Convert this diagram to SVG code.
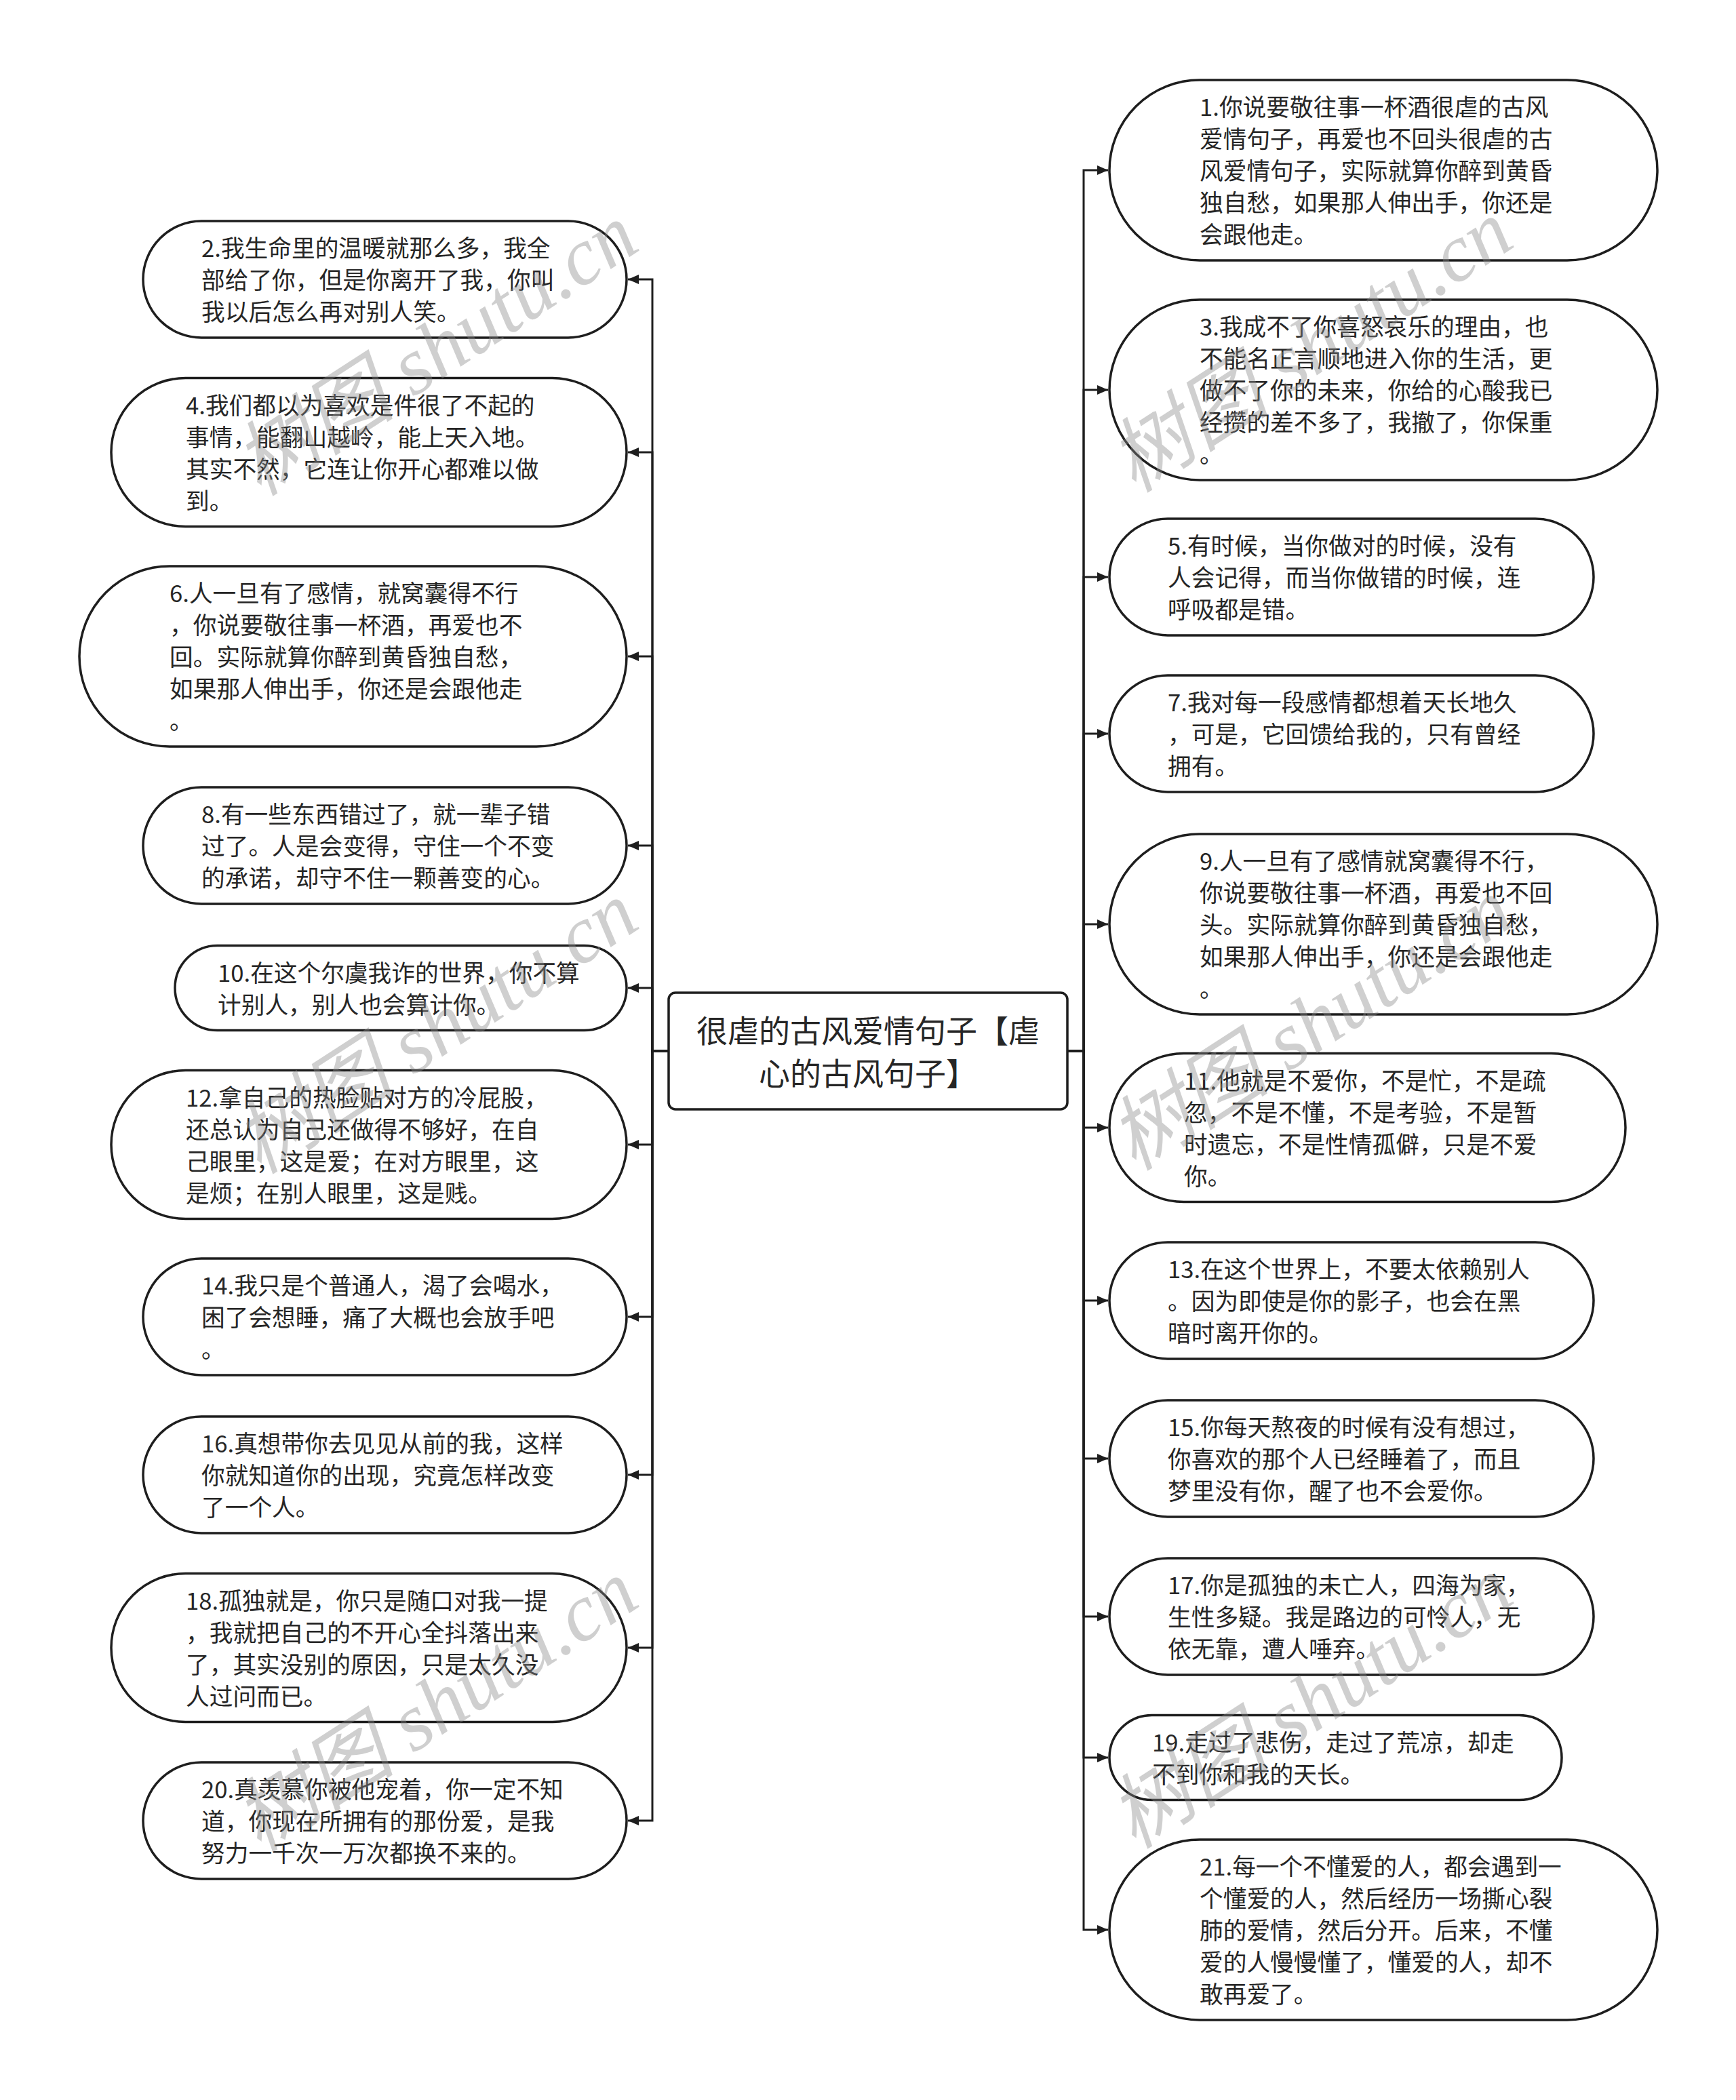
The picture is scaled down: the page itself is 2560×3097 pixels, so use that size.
<svg xmlns="http://www.w3.org/2000/svg" width="2560" height="3097" viewBox="0 0 2560 3097">
<defs>
<style>
.bg{fill:#ffffff}
.node{fill:#ffffff;stroke:#1e1e1e;stroke-width:3.5}
.t{font-family:"Noto Sans CJK SC","Noto Sans",sans-serif;font-size:34.7px;fill:#262626;dominant-baseline:central}
.root{font-family:"Noto Sans CJK SC","Noto Sans",sans-serif;font-size:46px;fill:#262626;dominant-baseline:central;text-anchor:middle}
.c{fill:none;stroke:#1e1e1e;stroke-width:3}
.wm{font-family:"Liberation Serif","Noto Sans CJK SC",serif;font-style:italic;font-size:120px;fill:#8a8a8a;opacity:0.4}
</style>
<marker id="arr" markerUnits="userSpaceOnUse" markerWidth="16" markerHeight="14" refX="16" refY="7" orient="auto">
<path d="M0,0 L16,7 L0,14 Z" fill="#1e1e1e"/>
</marker>
</defs>
<rect class="bg" x="0" y="0" width="2560" height="3097"/>

<g id="connectors">
<path class="c" d="M986,1550 H962 V412 H926" marker-end="url(#arr)"/>
<path class="c" d="M986,1550 H962 V667 H926" marker-end="url(#arr)"/>
<path class="c" d="M986,1550 H962 V968 H926" marker-end="url(#arr)"/>
<path class="c" d="M986,1550 H962 V1247 H926" marker-end="url(#arr)"/>
<path class="c" d="M986,1550 H962 V1457 H926" marker-end="url(#arr)"/>
<path class="c" d="M986,1550 H962 V1688 H926" marker-end="url(#arr)"/>
<path class="c" d="M986,1550 H962 V1942 H926" marker-end="url(#arr)"/>
<path class="c" d="M986,1550 H962 V2175 H926" marker-end="url(#arr)"/>
<path class="c" d="M986,1550 H962 V2430 H926" marker-end="url(#arr)"/>
<path class="c" d="M986,1550 H962 V2685 H926" marker-end="url(#arr)"/>
<path class="c" d="M1574,1550 H1598 V251 H1634" marker-end="url(#arr)"/>
<path class="c" d="M1574,1550 H1598 V575 H1634" marker-end="url(#arr)"/>
<path class="c" d="M1574,1550 H1598 V851 H1634" marker-end="url(#arr)"/>
<path class="c" d="M1574,1550 H1598 V1082 H1634" marker-end="url(#arr)"/>
<path class="c" d="M1574,1550 H1598 V1363 H1634" marker-end="url(#arr)"/>
<path class="c" d="M1574,1550 H1598 V1663 H1634" marker-end="url(#arr)"/>
<path class="c" d="M1574,1550 H1598 V1918 H1634" marker-end="url(#arr)"/>
<path class="c" d="M1574,1550 H1598 V2151 H1634" marker-end="url(#arr)"/>
<path class="c" d="M1574,1550 H1598 V2384 H1634" marker-end="url(#arr)"/>
<path class="c" d="M1574,1550 H1598 V2592 H1634" marker-end="url(#arr)"/>
<path class="c" d="M1574,1550 H1598 V2846 H1634" marker-end="url(#arr)"/>
</g>

<g id="root">
<rect class="node" x="986" y="1464" width="588" height="172" rx="10"/>
<text class="root"><tspan x="1280" y="1517">很虐的古风爱情句子【虐</tspan><tspan x="1280" y="1580">心的古风句子】</tspan></text>
</g>

<g id="n1">
<rect class="node" x="1636" y="118" width="808" height="266" rx="133"/>
<text class="t"><tspan x="1769" y="156">1.你说要敬往事一杯酒很虐的古风</tspan><tspan x="1769" y="203">爱情句子，再爱也不回头很虐的古</tspan><tspan x="1769" y="250">风爱情句子，实际就算你醉到黄昏</tspan><tspan x="1769" y="297">独自愁，如果那人伸出手，你还是</tspan><tspan x="1769" y="344">会跟他走。</tspan></text>
</g>
<g id="n3">
<rect class="node" x="1636" y="442" width="808" height="266" rx="133"/>
<text class="t"><tspan x="1769" y="480">3.我成不了你喜怒哀乐的理由，也</tspan><tspan x="1769" y="527">不能名正言顺地进入你的生活，更</tspan><tspan x="1769" y="574">做不了你的未来，你给的心酸我已</tspan><tspan x="1769" y="621">经攒的差不多了，我撤了，你保重</tspan><tspan x="1769" y="668">。</tspan></text>
</g>
<g id="n5">
<rect class="node" x="1636" y="765" width="714" height="172" rx="86"/>
<text class="t"><tspan x="1722" y="803">5.有时候，当你做对的时候，没有</tspan><tspan x="1722" y="850">人会记得，而当你做错的时候，连</tspan><tspan x="1722" y="897">呼吸都是错。</tspan></text>
</g>
<g id="n7">
<rect class="node" x="1636" y="996" width="714" height="172" rx="86"/>
<text class="t"><tspan x="1722" y="1034">7.我对每一段感情都想着天长地久</tspan><tspan x="1722" y="1081">，可是，它回馈给我的，只有曾经</tspan><tspan x="1722" y="1128">拥有。</tspan></text>
</g>
<g id="n9">
<rect class="node" x="1636" y="1230" width="808" height="266" rx="133"/>
<text class="t"><tspan x="1769" y="1268">9.人一旦有了感情就窝囊得不行，</tspan><tspan x="1769" y="1315">你说要敬往事一杯酒，再爱也不回</tspan><tspan x="1769" y="1362">头。实际就算你醉到黄昏独自愁，</tspan><tspan x="1769" y="1409">如果那人伸出手，你还是会跟他走</tspan><tspan x="1769" y="1456">。</tspan></text>
</g>
<g id="n11">
<rect class="node" x="1636" y="1553.5" width="761" height="219" rx="109.5"/>
<text class="t"><tspan x="1746" y="1591.5">11.他就是不爱你，不是忙，不是疏</tspan><tspan x="1746" y="1638.5">忽，不是不懂，不是考验，不是暂</tspan><tspan x="1746" y="1685.5">时遗忘，不是性情孤僻，只是不爱</tspan><tspan x="1746" y="1732.5">你。</tspan></text>
</g>
<g id="n13">
<rect class="node" x="1636" y="1832" width="714" height="172" rx="86"/>
<text class="t"><tspan x="1722" y="1870">13.在这个世界上，不要太依赖别人</tspan><tspan x="1722" y="1917">。因为即使是你的影子，也会在黑</tspan><tspan x="1722" y="1964">暗时离开你的。</tspan></text>
</g>
<g id="n15">
<rect class="node" x="1636" y="2065" width="714" height="172" rx="86"/>
<text class="t"><tspan x="1722" y="2103">15.你每天熬夜的时候有没有想过，</tspan><tspan x="1722" y="2150">你喜欢的那个人已经睡着了，而且</tspan><tspan x="1722" y="2197">梦里没有你，醒了也不会爱你。</tspan></text>
</g>
<g id="n17">
<rect class="node" x="1636" y="2298" width="714" height="172" rx="86"/>
<text class="t"><tspan x="1722" y="2336">17.你是孤独的未亡人，四海为家，</tspan><tspan x="1722" y="2383">生性多疑。我是路边的可怜人，无</tspan><tspan x="1722" y="2430">依无靠，遭人唾弃。</tspan></text>
</g>
<g id="n19">
<rect class="node" x="1636" y="2529.5" width="667" height="125" rx="62.5"/>
<text class="t"><tspan x="1699" y="2567.5">19.走过了悲伤，走过了荒凉，却走</tspan><tspan x="1699" y="2614.5">不到你和我的天长。</tspan></text>
</g>
<g id="n21">
<rect class="node" x="1636" y="2713" width="808" height="266" rx="133"/>
<text class="t"><tspan x="1769" y="2751">21.每一个不懂爱的人，都会遇到一</tspan><tspan x="1769" y="2798">个懂爱的人，然后经历一场撕心裂</tspan><tspan x="1769" y="2845">肺的爱情，然后分开。后来，不懂</tspan><tspan x="1769" y="2892">爱的人慢慢懂了，懂爱的人，却不</tspan><tspan x="1769" y="2939">敢再爱了。</tspan></text>
</g>

<g id="n2">
<rect class="node" x="211" y="326" width="713" height="172" rx="86"/>
<text class="t"><tspan x="297" y="364">2.我生命里的温暖就那么多，我全</tspan><tspan x="297" y="411">部给了你，但是你离开了我，你叫</tspan><tspan x="297" y="458">我以后怎么再对别人笑。</tspan></text>
</g>
<g id="n4">
<rect class="node" x="164" y="557.5" width="760" height="219" rx="109.5"/>
<text class="t"><tspan x="274" y="595.5">4.我们都以为喜欢是件很了不起的</tspan><tspan x="274" y="642.5">事情，能翻山越岭，能上天入地。</tspan><tspan x="274" y="689.5">其实不然，它连让你开心都难以做</tspan><tspan x="274" y="736.5">到。</tspan></text>
</g>
<g id="n6">
<rect class="node" x="117" y="835" width="807" height="266" rx="133"/>
<text class="t"><tspan x="250" y="873">6.人一旦有了感情，就窝囊得不行</tspan><tspan x="250" y="920">，你说要敬往事一杯酒，再爱也不</tspan><tspan x="250" y="967">回。实际就算你醉到黄昏独自愁，</tspan><tspan x="250" y="1014">如果那人伸出手，你还是会跟他走</tspan><tspan x="250" y="1061">。</tspan></text>
</g>
<g id="n8">
<rect class="node" x="211" y="1161" width="713" height="172" rx="86"/>
<text class="t"><tspan x="297" y="1199">8.有一些东西错过了，就一辈子错</tspan><tspan x="297" y="1246">过了。人是会变得，守住一个不变</tspan><tspan x="297" y="1293">的承诺，却守不住一颗善变的心。</tspan></text>
</g>
<g id="n10">
<rect class="node" x="258" y="1394.5" width="666" height="125" rx="62.5"/>
<text class="t"><tspan x="321" y="1432.5">10.在这个尔虞我诈的世界，你不算</tspan><tspan x="321" y="1479.5">计别人，别人也会算计你。</tspan></text>
</g>
<g id="n12">
<rect class="node" x="164" y="1578.5" width="760" height="219" rx="109.5"/>
<text class="t"><tspan x="274" y="1616.5">12.拿自己的热脸贴对方的冷屁股，</tspan><tspan x="274" y="1663.5">还总认为自己还做得不够好，在自</tspan><tspan x="274" y="1710.5">己眼里，这是爱；在对方眼里，这</tspan><tspan x="274" y="1757.5">是烦；在别人眼里，这是贱。</tspan></text>
</g>
<g id="n14">
<rect class="node" x="211" y="1856" width="713" height="172" rx="86"/>
<text class="t"><tspan x="297" y="1894">14.我只是个普通人，渴了会喝水，</tspan><tspan x="297" y="1941">困了会想睡，痛了大概也会放手吧</tspan><tspan x="297" y="1988">。</tspan></text>
</g>
<g id="n16">
<rect class="node" x="211" y="2089" width="713" height="172" rx="86"/>
<text class="t"><tspan x="297" y="2127">16.真想带你去见见从前的我，这样</tspan><tspan x="297" y="2174">你就知道你的出现，究竟怎样改变</tspan><tspan x="297" y="2221">了一个人。</tspan></text>
</g>
<g id="n18">
<rect class="node" x="164" y="2320.5" width="760" height="219" rx="109.5"/>
<text class="t"><tspan x="274" y="2358.5">18.孤独就是，你只是随口对我一提</tspan><tspan x="274" y="2405.5">，我就把自己的不开心全抖落出来</tspan><tspan x="274" y="2452.5">了，其实没别的原因，只是太久没</tspan><tspan x="274" y="2499.5">人过问而已。</tspan></text>
</g>
<g id="n20">
<rect class="node" x="211" y="2599" width="713" height="172" rx="86"/>
<text class="t"><tspan x="297" y="2637">20.真羡慕你被他宠着，你一定不知</tspan><tspan x="297" y="2684">道，你现在所拥有的那份爱，是我</tspan><tspan x="297" y="2731">努力一千次一万次都换不来的。</tspan></text>
</g>

<g id="watermark">
<text class="wm" transform="translate(665,550) rotate(-33)" text-anchor="middle">树图 shutu.cn</text>
<text class="wm" transform="translate(665,1550) rotate(-33)" text-anchor="middle">树图 shutu.cn</text>
<text class="wm" transform="translate(665,2550) rotate(-33)" text-anchor="middle">树图 shutu.cn</text>
<text class="wm" transform="translate(1955,545) rotate(-33)" text-anchor="middle">树图 shutu.cn</text>
<text class="wm" transform="translate(1955,1545) rotate(-33)" text-anchor="middle">树图 shutu.cn</text>
<text class="wm" transform="translate(1955,2545) rotate(-33)" text-anchor="middle">树图 shutu.cn</text>
</g>
</svg>
